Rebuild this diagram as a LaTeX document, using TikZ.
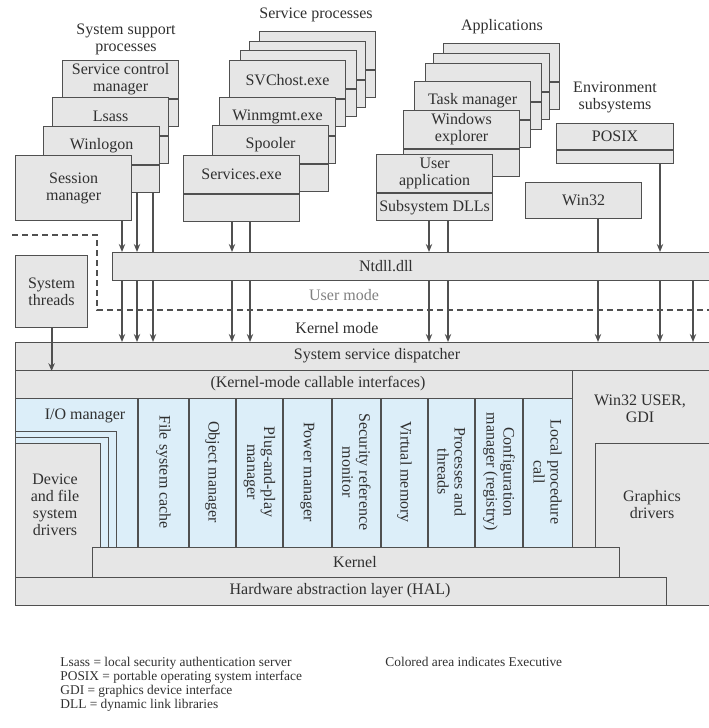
\documentclass[tikz,border=0pt]{standalone}
\usepackage{fontspec}
\setmainfont{Liberation Serif}
\usetikzlibrary{positioning,arrows.meta}
\definecolor{boxgray}{HTML}{E6E6E6}
\definecolor{execblue}{HTML}{DCEEF9}
\definecolor{linegray}{HTML}{505050}
\definecolor{txtgray}{HTML}{303030}

\begin{document}
\begin{tikzpicture}[x=0.5pt, y=-0.5pt,
    proc/.style={draw=linegray, fill=boxgray, line width=0.6pt, minimum width=58pt, minimum height=19pt, inner sep=1pt, align=center, font=\fontsize{8}{8.5}\selectfont, text=txtgray},
    proclow/.style={proc, minimum height=13.5pt},
    layer/.style={draw=linegray, fill=boxgray, line width=0.6pt, anchor=north west, inner sep=0pt},
    exec/.style={layer, fill=execblue},
    lbl/.style={font=\fontsize{8}{8.5}\selectfont, text=txtgray, align=center},
    col/.style={lbl, rotate=-90},
    arr/.style={-{Stealth[length=4pt,width=3.2pt]}, line width=0.9pt, linegray},
    wire/.style={line width=0.9pt, linegray},
    note/.style={font=\fontsize{6.7}{7}\selectfont, text=txtgray, align=left, anchor=north west, inner sep=0pt}
]
    \useasboundingbox (0,0) rectangle (708,728);

    % System support processes
    \node[lbl] (suptitle) at (126,39) {System support\\processes};
    \node[proc, anchor=north west] (scm) at (62,60) {Service control\\manager};
    \node[proclow, below=0pt of scm] (scmb) {};
    \node[proc, anchor=north west] (lsass) at (52,97) {Lsass};
    \node[proclow, below=0pt of lsass] (lsassb) {};
    \node[proc, anchor=north west] (winlogon) at (43,126) {Winlogon};
    \node[proclow, below=0pt of winlogon] (winlogonb) {};
    \node[proc, anchor=north west, minimum height=32.5pt] (sessmgr) at (15,155) {Session\\manager};

    % Service processes
    \node[lbl] (svctitle) at (316,15) {Service processes};
    \node[proc, anchor=north west] (svcA) at (259,31) {};
    \node[proclow, below=0pt of svcA] (svcAb) {};
    \node[proc, anchor=north west] (svcB) at (249,41) {};
    \node[proclow, below=0pt of svcB] (svcBb) {};
    \node[proc, anchor=north west] (svcC) at (240,50) {};
    \node[proclow, below=0pt of svcC] (svcCb) {};
    \node[proc, anchor=north west] (svchost) at (229,60) {SVChost.exe};
    \node[proclow, below=0pt of svchost] (svchostb) {};
    \node[proc, anchor=north west] (winmgmt) at (219,97) {Winmgmt.exe};
    \node[proclow, below=0pt of winmgmt] (winmgmtb) {};
    \node[proc, anchor=north west] (spooler) at (212,125) {Spooler};
    \node[proclow, below=0pt of spooler] (spoolerb) {};
    \node[proc, anchor=north west] (services) at (183,155) {Services.exe};
    \node[proclow, below=0pt of services] (servicesb) {};

    % Applications
    \node[lbl] (apptitle) at (502,27) {Applications};
    \node[proc, anchor=north west] (appA) at (443,43) {};
    \node[proclow, below=0pt of appA] (appAb) {};
    \node[proc, anchor=north west] (appB) at (433,53) {};
    \node[proclow, below=0pt of appB] (appBb) {};
    \node[proc, anchor=north west] (appC) at (425,63) {};
    \node[proclow, below=0pt of appC] (appCb) {};
    \node[proc, anchor=north west] (taskmgr) at (414,81) {Task manager};
    \node[proclow, below=0pt of taskmgr] (taskmgrb) {};
    \node[proc, anchor=north west] (winexp) at (403,110) {Windows\\explorer};
    \node[proclow, below=0pt of winexp] (winexpb) {};
    \node[proc, anchor=north west] (userapp) at (376,154) {User\\application};
    \node[proclow, below=0pt of userapp] (userappb) {Subsystem DLLs};

    % Environment subsystems
    \node[lbl] (envtitle) at (615,97) {Environment\\subsystems};
    \node[proc, anchor=north west, minimum width=58.5pt, minimum height=13pt] (posix) at (556,123) {POSIX};
    \node[proc, below=0pt of posix, minimum width=58.5pt, minimum height=6.5pt] (posixb) {};
    \node[proc, anchor=north west, minimum height=18pt] (win32) at (525,182) {Win32};

    % Ntdll and system threads
    \node[layer, minimum width=300pt, minimum height=14pt] (ntdll) at (112,252) {};
    \node[lbl] (ntdlltxt) at (386,266) {Ntdll.dll};
    \node[proc, anchor=north west, minimum width=36pt, minimum height=36pt] (thr) at (15,255) {System\\threads};

    % User / kernel boundary
    \draw[linegray, line width=1pt, dash pattern=on 3pt off 2pt] (12,235) -- (97,235) -- (97,310) -- (712,310);
    \node[lbl, text=gray] (umode) at (344,295) {User mode};
    \node[lbl] (kmode) at (337,328) {Kernel mode};

    % Kernel-mode layers
    \node[layer, minimum width=348.5pt, minimum height=131.5pt] (win32k) at (15,342) {};
    \node[layer, minimum width=348.5pt, minimum height=14pt] (disp) at (15,342) {};
    \node[lbl] (disptxt) at (377,356) {System service dispatcher};
    \node[layer, minimum width=278.5pt, minimum height=14pt] (kmci) at (15,370) {};
    \node[lbl] (kmcitxt) at (318,384) {(Kernel-mode callable interfaces)};
    \node[exec, minimum width=278.5pt, minimum height=74.5pt] (execarea) at (15,398) {};
    \foreach \x in {138,189,236,283,332,381,428,475,523}
        \draw[linegray, line width=0.6pt] (\x,0 |- execarea.north) -- (\x,0 |- execarea.south);

    % Executive components
    \node[col] (fscache) at (163.5,472) {File system cache};
    \node[col] (objmgr) at (212.5,472) {Object manager};
    \node[col] (pnp) at (259.5,472) {Plug-and-play\\manager};
    \node[col] (power) at (307.5,472) {Power manager};
    \node[col] (secref) at (356.5,472) {Security reference\\monitor};
    \node[col] (vmem) at (404.5,472) {Virtual memory};
    \node[col] (procthr) at (451.5,472) {Processes and\\threads};
    \node[col] (config) at (499,472) {Configuration\\manager (registry)};
    \node[col] (lpc) at (547.5,472) {Local procedure\\call};

    % I/O manager and drivers
    \node[exec, minimum width=50.5pt, minimum height=58pt] (io1) at (15,431) {};
    \node[exec, minimum width=46.5pt, minimum height=55pt] (io2) at (15,437) {};
    \node[layer, minimum width=42.5pt, minimum height=67pt] (devdrv) at (15,443) {};
    \node[lbl] (devtxt) at (55,505) {Device\\and file\\system\\drivers};
    \node[lbl] (iomgr) at (85,416) {I/O manager};

    \node[layer, minimum width=58.5pt, minimum height=81pt] (gfx) at (595,443) {};
    \node[lbl] (gfxtxt) at (652,505) {Graphics\\drivers};
    \node[lbl] (w32ktxt) at (640,409) {Win32 USER,\\GDI};

    \node[layer, minimum width=263.5pt, minimum height=15pt] (kernel) at (92,547) {};
    \node[lbl] (kerneltxt) at (355,562) {Kernel};
    \node[layer, minimum width=325.5pt, minimum height=14pt] (hal) at (15,577) {};
    \node[lbl] (haltxt) at (340,591) {Hardware abstraction layer (HAL)};

    % Calls into Ntdll
    \coordinate (xs1) at (122,0);
    \coordinate (xs2) at (137,0);
    \coordinate (xs3) at (153,0);
    \coordinate (xv1) at (232,0);
    \coordinate (xv2) at (250,0);
    \coordinate (xa1) at (429,0);
    \coordinate (xa2) at (448,0);
    \coordinate (xw) at (598,0);
    \coordinate (xp) at (660,0);
    \coordinate (xe) at (693,0);
    \draw[arr] (sessmgr.south -| xs1) -- (ntdll.north -| xs1);
    \draw[arr] (winlogonb.south -| xs2) -- (ntdll.north -| xs2);
    \draw[wire] (winlogonb.south -| xs3) -- (ntdll.north -| xs3);
    \draw[arr] (servicesb.south -| xv1) -- (ntdll.north -| xv1);
    \draw[wire] (servicesb.south -| xv2) -- (ntdll.north -| xv2);
    \draw[arr] (userappb.south -| xa1) -- (ntdll.north -| xa1);
    \draw[wire] (userappb.south -| xa2) -- (ntdll.north -| xa2);
    \draw[wire] (win32.south -| xw) -- (ntdll.north -| xw);
    \draw[arr] (posixb.south -| xp) -- (ntdll.north -| xp);

    % Calls into the dispatcher
    \foreach \c in {xs1,xs2,xs3,xv1,xv2,xa1,xa2,xw,xp,xe}
        \draw[arr] (ntdll.south -| \c) -- (disp.north -| \c);
    \draw[arr] (thr.south) -- (disp.south -| thr.south);

    % Legend
    \node[note] (abbr) at (60,657) {Lsass = local security authentication server\\POSIX = portable operating system interface\\GDI = graphics device interface\\DLL = dynamic link libraries};
    \node[note] (colnote) at (385,657) {Colored area indicates Executive};
\end{tikzpicture}
\end{document}
